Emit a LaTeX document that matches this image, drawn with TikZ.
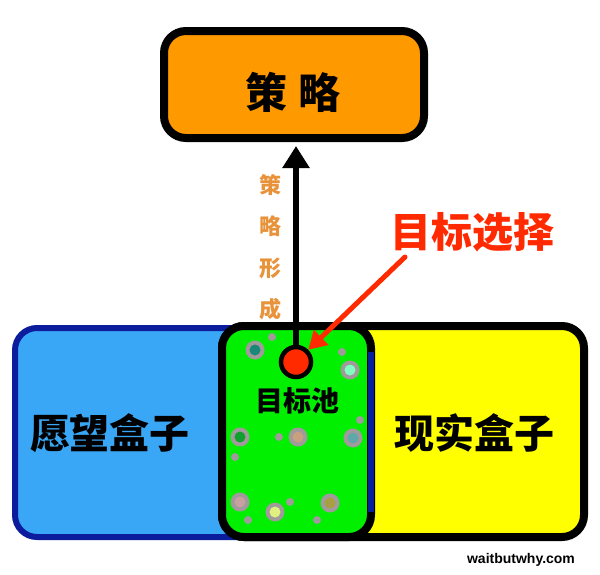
\documentclass[tikz,border=0pt]{standalone}
\usepackage{fontspec}
\newfontfamily\cjk{Noto Sans CJK SC}
\setsansfont{Liberation Sans}
\usetikzlibrary{arrows.meta}
\definecolor{orangebox}{HTML}{FF9900}
\definecolor{bluebox}{HTML}{3AA6F6}
\definecolor{blueedge}{HTML}{0B1C9C}
\definecolor{yellowbox}{HTML}{FFFF00}
\definecolor{greenbox}{HTML}{00F000}
\definecolor{redc}{HTML}{FF2A00}
\definecolor{labelor}{HTML}{E8923A}
\definecolor{ringgray}{HTML}{A09A9A}
\definecolor{dA}{HTML}{1A8878}
\definecolor{dB}{HTML}{80FFC0}
\definecolor{dC}{HTML}{10A030}
\definecolor{dD}{HTML}{C8A080}
\definecolor{dE}{HTML}{60A8A8}
\definecolor{dF}{HTML}{C8A0A0}
\definecolor{dG}{HTML}{E0F080}
\definecolor{dH}{HTML}{A8A040}
\tikzset{
  boxtext/.style={font=\cjk\bfseries, text=black},
  dotring/.style={fill=ringgray},
  small/.style={fill=ringgray},
}
\newcommand{\pdot}[3]{% x y color
  \fill[dotring] (#1,#2) circle (9.5);
  \fill[#3] (#1,#2) circle (5.5);
}
\begin{document}
\begin{tikzpicture}[x=1pt,y=-1pt]
\useasboundingbox (0,0) rectangle (600,574);
\fill[white] (0,0) rectangle (600,574);
% top box
\draw[line width=8pt, fill=orangebox, rounded corners=22pt] (164,31) rectangle (424,138);
\node[boxtext, font=\cjk\bfseries\fontsize{42}{46}\selectfont] (strat) at (293,92) {策\hspace{12pt}略};
\coordinate (stratb) at (296,146);
% blue box
\draw[line width=6pt, draw=blueedge, fill=bluebox, rounded corners=22pt] (15,328) rectangle (372,537);
% yellow box
\draw[line width=8pt, fill=yellowbox, rounded corners=22pt] (222,326) rectangle (584,537);
% green box
\draw[line width=8pt, fill=greenbox, rounded corners=22pt] (222,326) rectangle (371,537);
\draw[line width=6pt, draw=blueedge] (371,352) -- (371,512);
% dots
\fill[small] (272,337) circle (4);
\pdot{255}{350}{dA}
\fill[small] (342,352) circle (4);
\pdot{350}{370}{dB}
\fill[small] (235,457) circle (4);
\pdot{240}{437}{dC}
\fill[small] (279,437) circle (4);
\pdot{298}{437}{dD}
\fill[small] (360,420) circle (4);
\pdot{353}{438}{dE}
\fill[small] (248,520) circle (4);
\pdot{240}{502}{dF}
\fill[small] (290,502) circle (4);
\pdot{275}{512}{dG}
\fill[small] (317,520) circle (4);
\pdot{330}{503}{dH}
% texts
\node[boxtext, font=\cjk\bfseries\fontsize{40}{44}\selectfont] (wish) at (110,433) {愿望盒子};
\node[boxtext, font=\cjk\bfseries\fontsize{40}{44}\selectfont] (real) at (474,433) {现实盒子};
\node[boxtext, font=\cjk\bfseries\fontsize{28}{30}\selectfont] (pool) at (297,401) {目标池};
% red circle
\node[circle, draw=black, line width=4.5pt, fill=redc, minimum size=30pt, inner sep=0pt] (goal) at (296,362) {};
% black arrow
\draw[line width=6pt, -{Triangle[length=22pt,width=26pt]}] (goal.north) -- (stratb);
% vertical label
\node[font=\cjk\bfseries\fontsize{22}{41.5}\selectfont, text=labelor, align=center] (form) at (270,247) {策\\略\\形\\成};
% red label and arrow
\node[font=\cjk\bfseries\fontsize{41}{44}\selectfont, text=redc] (sel) at (472,232) {目标选择};
\coordinate (selstart) at (405,257);
\draw[line width=5pt, draw=redc, line cap=round, -{Triangle[length=18pt,width=20pt]}] (selstart) -- (goal.north east);
% footer
\node[font=\sffamily\bfseries\fontsize{14}{16}\selectfont] (wbw) at (521,560) {waitbutwhy.com};
\end{tikzpicture}
\end{document}
